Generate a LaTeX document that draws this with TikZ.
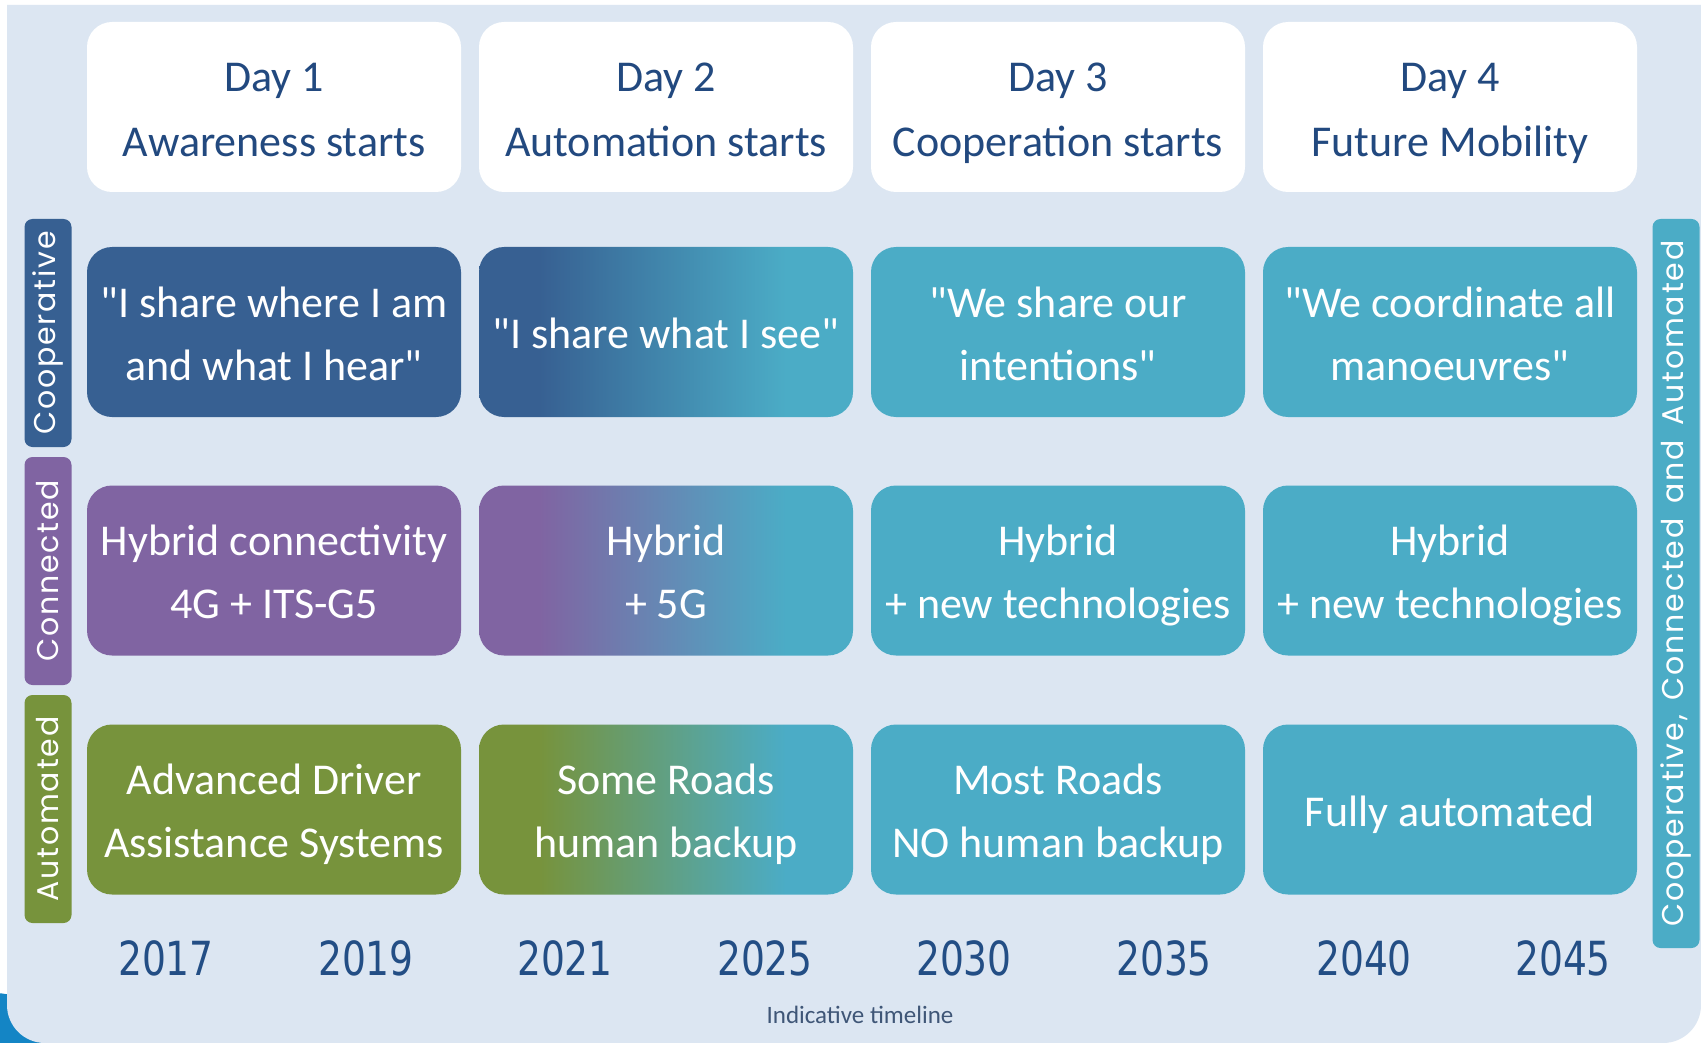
\documentclass[tikz,border=0pt]{standalone}
\usepackage{fontspec}
\setmainfont{Carlito}
\newfontfamily\carl{Carlito}
\newfontfamily\tabfont{Poppins}[LetterSpace=6]
\newfontfamily\yearfont{DejaVu Sans}[FakeStretch=0.8]
\newcommand{\eq}{\vphantom{Hg}}
\newcommand{\eqa}{\rule{0pt}{20.3pt}}
\definecolor{cpanel}{HTML}{DCE6F2}
\definecolor{cdblue}{HTML}{376092}
\definecolor{cpurple}{HTML}{8064A2}
\definecolor{cgreen}{HTML}{77933C}
\definecolor{cteal}{HTML}{4BACC6}
\definecolor{ctext}{HTML}{22497F}
\definecolor{cyear}{HTML}{234E85}
\definecolor{cnote}{HTML}{3F5677}
\definecolor{ccorner}{HTML}{1485C5}
\pgfdeclarehorizontalshading{gblue}{100bp}{color(0bp)=(cdblue); color(33bp)=(cdblue); color(66bp)=(cteal); color(100bp)=(cteal)}
\pgfdeclarehorizontalshading{gpurple}{100bp}{color(0bp)=(cpurple); color(33bp)=(cpurple); color(66bp)=(cteal); color(100bp)=(cteal)}
\pgfdeclarehorizontalshading{ggreen}{100bp}{color(0bp)=(cgreen); color(33bp)=(cgreen); color(66bp)=(cteal); color(100bp)=(cteal)}
\begin{document}
\begin{tikzpicture}[x=0.5pt,y=-0.5pt,
  box/.style={rounded corners=12.5pt, minimum width=187pt, minimum height=85pt, inner sep=0pt, align=center, text=white, font=\carl\fontsize{22}{31.5}\selectfont},
  header/.style={box, fill=white, text=ctext, font=\carl\fontsize{22}{32.5}\selectfont},
  tab/.style={rounded corners=4pt, minimum height=23.5pt, inner sep=0pt, rotate=90, text=white, font=\tabfont\fontsize{15}{17}\selectfont},
  year/.style={text=cyear, inner sep=0pt, font=\yearfont\fontsize{23.5}{26}\selectfont},
]
\useasboundingbox (0,0) rectangle (1701,1043);
\fill[white] (0,0) rectangle (1701,1043);
\fill[ccorner] (-5,1050) circle[radius=57];
\fill[cpanel] (7,5) -- (1701,5) -- (1701,1005) arc[start angle=0, end angle=90, radius=38] -- (45,1043) arc[start angle=90, end angle=180, radius=38] -- cycle;

% headers
\node[header] (h1) at (274,107) {\eqa Day 1\\Awareness starts\eq};
\node[header] (h2) at (666,107) {\eqa Day 2\\Automation starts\eq};
\node[header] (h3) at (1058,107) {\eqa Day 3\\Cooperation starts\eq};
\node[header] (h4) at (1450,107) {\eqa Day 4\\Future Mobility\eq};

% cooperative row
\node[box, fill=cdblue] (c1) at (274,332) {\eqa"I share where I am\\and what I hear"\eq};
\node[box, shading=gblue] (c2) at (666,332) {\eqa"I share what I see"\eq};
\node[box, fill=cteal] (c3) at (1058,332) {\eqa"We share our\\intentions"\eq};
\node[box, fill=cteal] (c4) at (1450,332) {\eqa"We coordinate all\\manoeuvres"\eq};

% connected row
\node[box, fill=cpurple] (n1) at (274,570.5) {\eqa Hybrid connectivity\\4G + ITS-G5\eq};
\node[box, shading=gpurple] (n2) at (666,570.5) {\eqa Hybrid\\+ 5G\eq};
\node[box, fill=cteal] (n3) at (1058,570.5) {\eqa Hybrid\\+ new technologies\eq};
\node[box, fill=cteal] (n4) at (1450,570.5) {\eqa Hybrid\\+ new technologies\eq};

% automated row
\node[box, fill=cgreen] (a1) at (274,809.5) {\eqa Advanced Driver\\Assistance Systems\eq};
\node[box, shading=ggreen] (a2) at (666,809.5) {\eqa Some Roads\\human backup\eq};
\node[box, fill=cteal] (a3) at (1058,809.5) {\eqa Most Roads\\NO human backup\eq};
\node[box, fill=cteal] (a4) at (1450,809.5) {\eqa Fully automated\eq};

% side tabs
\node[tab, fill=cdblue, minimum width=114pt] (tc) at (48,333) {Cooperative};
\node[tab, fill=cpurple, minimum width=114pt] (tn) at (48,571) {Connected};
\node[tab, fill=cgreen, minimum width=114pt] (ta) at (48,809) {Automated};
\node[tab, fill=cteal, minimum width=364.5pt] (tr) at (1676,583.5) {Cooperative,\ \,Connected\ \,and\ \,Automated};

% years
\node[year] (y1) at (166,958) {2017};
\node[year] (y2) at (366,958) {2019};
\node[year] (y3) at (565,958) {2021};
\node[year] (y4) at (765,958) {2025};
\node[year] (y5) at (964,958) {2030};
\node[year] (y6) at (1164,958) {2035};
\node[year] (y7) at (1364,958) {2040};
\node[year] (y8) at (1563,958) {2045};

\node[anchor=base, inner sep=0pt, text=cnote, font=\carl\fontsize{12.5}{14}\selectfont] (tl) at (860,1023) {Indicative timeline};
\end{tikzpicture}
\end{document}
